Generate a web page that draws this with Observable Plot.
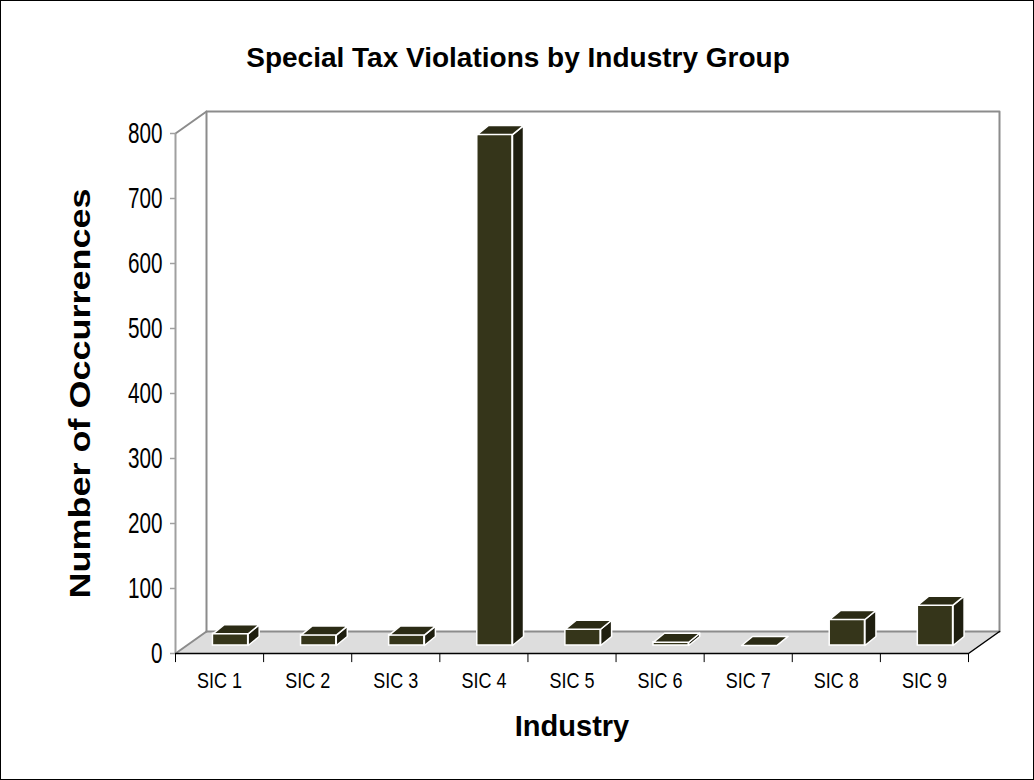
<!DOCTYPE html>
<html>
<head>
<meta charset="utf-8">
<script src="https://cdn.jsdelivr.net/npm/d3@7"></script>
<script src="https://cdn.jsdelivr.net/npm/@observablehq/plot@0.6"></script>
<style>
  html, body { margin: 0; padding: 0; background: #fff; overflow: hidden; }
  #wrap { position: relative; width: 1034px; height: 780px; }
  #wrap svg { position: absolute; left: 0; top: 0; display: block; }
  #border { position: absolute; left: 0; top: 0; width: 1032px; height: 778px; border: 1px solid #000; pointer-events: none; }
</style>
</head>
<body>
<div id="wrap"><div id="border"></div></div>
<script>
// ---- data ----
const categories = ["SIC 1", "SIC 2", "SIC 3", "SIC 4", "SIC 5", "SIC 6", "SIC 7", "SIC 8", "SIC 9"];
const occurrences = [18, 16, 16, 786, 25, 5, 0, 40, 62];
const yTicks = [0, 100, 200, 300, 400, 500, 600, 700, 800];
const title = "Special Tax Violations by Industry Group";
const xTitle = "Industry";
const yTitle = "Number of Occurrences";

// ---- layout ----
const W = 1034, H = 780;
const mL = 175, mR = 66, mT = 133, mB = 127;
const n = categories.length;
const yMax = 800;
const kx = (W - mL - mR) / n;        // px per x unit
const ky = (H - mT - mB) / yMax;     // px per y unit
// 3D depth offsets (pixels) converted to data units
const DX = 31 / kx, DY = 22 / ky;        // full floor depth
const FDX = 11 / kx, FDY = 8 / ky;       // bar front plane
const BDX = 22 / kx, BDY = 17 / ky;      // bar back plane
const halfW = 0.2;

const bars = categories.map((c, i) => {
  const v = occurrences[i];
  const xl = i + 0.5 - halfW + FDX, xr = i + 0.5 + halfW + FDX;
  const yb = FDY, yt = v + FDY;
  return {c, i, v, xl, xr, yb, yt};
});
const topFaces = [], sideFaces = [];
bars.forEach(b => {
  const ox = BDX - FDX, oy = BDY - FDY;
  [[b.xl, b.yt], [b.xr, b.yt], [b.xr + ox, b.yt + oy], [b.xl + ox, b.yt + oy], [b.xl, b.yt]]
    .forEach(([x, y]) => topFaces.push({id: b.i, x, y}));
  [[b.xr, b.yb], [b.xr, b.yt], [b.xr + ox, b.yt + oy], [b.xr + ox, b.yb + oy], [b.xr, b.yb]]
    .forEach(([x, y]) => sideFaces.push({id: b.i, x, y}));
});

const pts = a => a.map(([x, y]) => ({x, y}));
const floor = pts([[0, 0], [n, 0], [n + DX, DY], [DX, DY], [0, 0]]);
const backWall = pts([[DX, DY], [DX, yMax + DY], [n + DX, yMax + DY], [n + DX, DY]]);
const backFloorLine = pts([[DX, DY], [n + DX, DY]]);
const leftTop = pts([[0, yMax], [DX, yMax + DY]]);
const leftBottom = pts([[0, 0], [DX, DY]]);
const frontFloor = pts([[0, 0], [n, 0], [n + DX, DY]]);
const boundaries = d3.range(n + 1);

const plot = Plot.plot({
  width: W, height: H,
  marginLeft: mL, marginRight: mR, marginTop: mT, marginBottom: mB,
  x: {type: "linear", domain: [0, n], axis: null},
  y: {type: "linear", domain: [0, yMax], axis: null},
  style: {fontFamily: "Arial, 'Liberation Sans', sans-serif", background: "transparent", overflow: "visible"},
  marks: [
    // floor
    Plot.line(floor, {x: "x", y: "y", fill: "#DDDDDD", stroke: "none"}),
    Plot.line(backFloorLine, {x: "x", y: "y", stroke: "#8C8C8C", strokeWidth: 2}),
    // walls
    Plot.line(backWall, {x: "x", y: "y", stroke: "#8C8C8C", strokeWidth: 2}),
    Plot.line(leftTop, {x: "x", y: "y", stroke: "#8C8C8C", strokeWidth: 2}),
    Plot.line(leftBottom, {x: "x", y: "y", stroke: "#8C8C8C", strokeWidth: 2}),
    Plot.ruleX([0], {y1: 0, y2: yMax, stroke: "#A0A0A0", strokeWidth: 2}),
    Plot.line(frontFloor, {x: "x", y: "y", stroke: "#000", strokeWidth: 1.5}),
    // y ticks
    Plot.ruleY(yTicks, {y: d => d, x1: -5 / kx, x2: 0, stroke: "#A0A0A0", strokeWidth: 1.5}),
    Plot.text(yTicks, {x: 0, y: d => d, text: d => String(d), dx: -13, textAnchor: "end", fontSize: 23, fill: "#000"}),
    // x ticks
    Plot.ruleX(boundaries, {x: d => d, y1: 0, y2: -14, stroke: "#000", strokeWidth: 1}),
    Plot.text(categories, {x: (d, i) => i + 0.5, y: 0, text: d => d, dy: 28, fontSize: 18, fill: "#000"}),
    // bars
    Plot.rect(bars, {x1: "xl", x2: "xr", y1: "yb", y2: "yt", fill: "#35351A", stroke: "#fff", strokeWidth: 1.5}),
    Plot.line(sideFaces, {x: "x", y: "y", z: "id", fill: "#1E1E0F", stroke: "#fff", strokeWidth: 1.5}),
    Plot.line(topFaces, {x: "x", y: "y", z: "id", fill: "#2B2B15", stroke: "#fff", strokeWidth: 1.5}),
    // titles
    Plot.text([title], {frameAnchor: "top", text: d => d, dx: -54, dy: -86, fontSize: 28, fontWeight: "bold", fill: "#000"}),
    Plot.text([xTitle], {frameAnchor: "bottom", text: d => d, dy: 82, fontSize: 29, fontWeight: "bold", fill: "#000"}),
    Plot.text([yTitle], {frameAnchor: "left", text: d => d, rotate: -90, dx: -95, fontSize: 29, fontWeight: "bold", fill: "#000"})
  ]
});
document.getElementById("wrap").prepend(plot);

// stretch the rotated axis title along its length, as in the reference
const stretchLen = 410;
const svgTexts = d3.select(plot).selectAll("text");
svgTexts
  .filter(function () { return this.textContent === yTitle; })
  .attr("text-anchor", "start")
  .attr("x", -stretchLen / 2)
  .attr("textLength", stretchLen)
  .attr("lengthAdjust", "spacingAndGlyphs");

// tick labels in the reference are drawn slightly tall/narrow
function stretch(sel, sx, sy) {
  sel.each(function () {
    const t = d3.select(this);
    const tr = t.attr("transform");
    if (tr) {
      t.attr("transform", `${tr} scale(${sx},${sy})`);
    } else {
      const x = +t.attr("x") || 0, y = +t.attr("y") || 0;
      t.attr("transform", `translate(${x},${y}) scale(${sx},${sy}) translate(${-x},${-y})`);
    }
  });
}
const tickStrings = new Set(yTicks.map(String));
stretch(svgTexts.filter(function () { return categories.includes(this.textContent); }), 1, 1.2);
stretch(svgTexts.filter(function () { return tickStrings.has(this.textContent); }), 0.9, 1.25);
</script>
</body>
</html>
